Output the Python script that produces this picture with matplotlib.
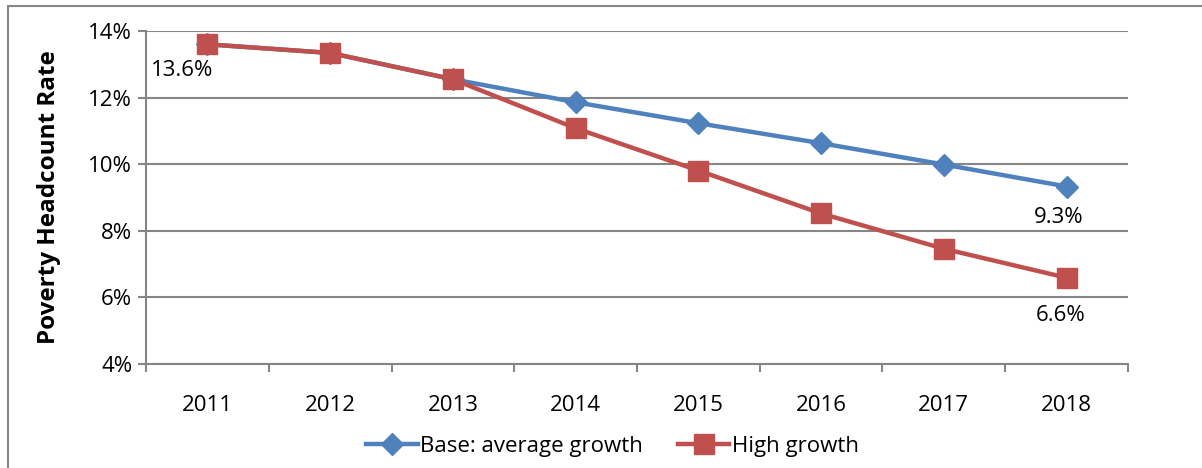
import matplotlib.pyplot as plt
from matplotlib.patches import Rectangle
from matplotlib.ticker import FuncFormatter, FixedLocator

plt.rcParams['font.family'] = ['Open Sans', 'DejaVu Sans']

years = ['2011', '2012', '2013', '2014', '2015', '2016', '2017', '2018']
base_growth = [13.6, 13.34, 12.55, 11.86, 11.23, 10.63, 9.99, 9.33]
high_growth = [13.6, 13.34, 12.55, 11.08, 9.81, 8.52, 7.46, 6.59]

blue = '#4F81BD'
red = '#C0504D'
grey = '#868686'
fs = 16

fig = plt.figure(figsize=(12.02, 4.68), dpi=100)
ax = fig.add_axes([0.1215, 0.2222, 0.9384 - 0.1215, 0.9338 - 0.2222])

# outer chart frame (only left and top visible in the original)
fig.patches.append(Rectangle((8 / 1202, -0.1), 1.2, 1 - 6 / 468 + 0.1,
                             transform=fig.transFigure, fill=False,
                             edgecolor=grey, linewidth=1.5))

x = list(range(len(years)))
ax.plot(x, base_growth, color=blue, lw=3.2, marker='D', ms=11,
        label='Base: average growth', zorder=3)
ax.plot(x, high_growth, color=red, lw=3.2, marker='s', ms=14,
        label='High growth', zorder=4)

ax.set_xlim(-0.5, len(years) - 0.5)
ax.set_ylim(4, 14)
ax.set_yticks([4, 6, 8, 10, 12, 14])
ax.yaxis.set_major_formatter(FuncFormatter(lambda v, p: '%d%%' % v))
ax.set_xticks(x)
ax.set_xticklabels(years)
ax.xaxis.set_minor_locator(FixedLocator([i - 0.5 for i in range(len(years) + 1)]))
ax.tick_params(axis='x', which='major', length=0, pad=22, labelsize=fs)
ax.tick_params(axis='x', which='minor', length=6, color=grey, width=1.5)
ax.tick_params(axis='y', length=6, color=grey, width=1.5, labelsize=fs, pad=4)

ax.grid(axis='y', color=grey, lw=1.5)
ax.set_axisbelow(True)
for s in ['top', 'right']:
    ax.spines[s].set_visible(False)
for s in ['left', 'bottom']:
    ax.spines[s].set_color(grey)
    ax.spines[s].set_linewidth(1.5)

ax.set_ylabel('Poverty Headcount Rate', fontsize=17.5, fontweight='bold', labelpad=20)

ax.annotate('13.6%', (0, base_growth[0]), xytext=(-18, -19), textcoords='offset points',
            ha='center', va='center', fontsize=fs)
ax.annotate('9.3%', (7, base_growth[-1]), xytext=(-6, -22), textcoords='offset points',
            ha='center', va='center', fontsize=fs)
ax.annotate('6.6%', (7, high_growth[-1]), xytext=(-4, -27), textcoords='offset points',
            ha='center', va='center', fontsize=fs)

ax.legend(loc='upper center', bbox_to_anchor=(0.475, -0.155), ncol=2, frameon=False,
          fontsize=fs, handlelength=2.3, handletextpad=0.1, columnspacing=1.6)

fig.savefig('out.png', dpi=100)
